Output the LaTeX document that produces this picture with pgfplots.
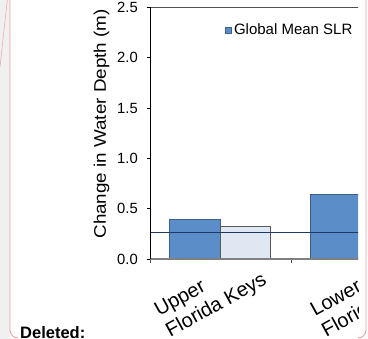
\documentclass[border=0pt]{standalone}
\usepackage{pgfplots}
\pgfplotsset{compat=1.18}
\usepackage{fontspec}
\setmainfont{Liberation Sans}
\newfontfamily\ylabfont[FakeStretch=1.12]{Liberation Sans}
\definecolor{barblue}{HTML}{5B8DC8}
\definecolor{barblueedge}{HTML}{3E5F8A}
\definecolor{barlight}{HTML}{DEE7F2}
\definecolor{barlightedge}{HTML}{595959}
\definecolor{slrline}{HTML}{1F3864}
\definecolor{pinkline}{HTML}{F2A0A0}
\definecolor{sidegray}{HTML}{F0F0F0}
\definecolor{axisgray}{HTML}{808080}
\definecolor{topgray}{HTML}{505050}
\begin{document}
\begin{tikzpicture}
\fill[white] (0,0) rectangle (368bp,339bp);
\fill[sidegray] (0,0) rectangle (10bp,339bp);
\draw[pinkline, line width=0.5bp] (0,272bp) -- (7.3bp,339bp);
\draw[pinkline, line width=0.9bp] (10bp,339bp) -- (10bp,9bp) arc[start angle=180, end angle=270, radius=8bp];
\draw[pinkline, line width=0.9bp] (366bp,339bp) -- (366bp,9bp) arc[start angle=0, end angle=-90, radius=8bp];
\begin{scope}
\clip (0,0) rectangle (358bp,339bp);
\begin{axis}[
  scale only axis,
  width=282bp, height=251.6bp,
  at={(150bp,80bp)}, anchor=south west,
  xmin=-0.5, xmax=1.5, ymin=0, ymax=2.5,
  clip=false,
  axis line style={draw=none},
  tick align=outside,
  major tick length=3.5bp,
  ytick pos=left, xtick pos=bottom,
  ytick={0,0.5,1,1.5,2,2.5},
  y tick style={black, line width=0.8bp},
  x tick style={topgray, line width=0.8bp},
  yticklabel style={/pgf/number format/fixed, /pgf/number format/fixed zerofill,
    /pgf/number format/precision=1, /pgf/number format/assume math mode=true,
    font=\fontsize{14.8bp}{17bp}\selectfont, anchor=east, inner sep=0pt, xshift=-8.5bp},
  xtick={-0.5,0.5,1.5},
  xticklabels={,,},
  extra x ticks={-0.067,1.039},
  extra x tick labels={{Upper\\Florida Keys},{Lower\\Florida Keys}},
  extra x tick style={major tick length=0pt, tick style={draw=none},
    xticklabel style={yshift=-37bp, rotate=29, anchor=center, align=left, inner sep=0pt,
      font=\fontsize{20bp}{23.5bp}\selectfont}},
  every axis y label/.style={at={(axis description cs:-0.172,0.537)}, anchor=center, rotate=90,
    font=\ylabfont\fontsize{16.8bp}{19bp}\selectfont},
  ylabel={Change in Water Depth (m)},
  legend style={at={(axis description cs:0.266,0.9105)}, anchor=west, draw=none, fill=none,
    inner sep=0pt, font=\fontsize{15bp}{18bp}\selectfont},
  legend cell align=left,
]
\addplot[ybar, bar width=0.362, bar shift=-0.181, fill=barblue, draw=barblueedge, line width=1bp,
  legend image code/.code={\draw[fill=barblue, draw=barblueedge, line width=0.8bp] (0bp,-3bp) rectangle (6bp,3bp);}]
  coordinates {(0,0.39) (1,0.64)};
\addlegendentry{Global Mean SLR}
\addplot[ybar, bar width=0.357, bar shift=0.178, fill=barlight, draw=barlightedge, line width=1bp, forget plot]
  coordinates {(0,0.324)};
\addplot[slrline, line width=1.3bp, forget plot] coordinates {(-0.5,0.266) (1.5,0.266)};
\draw[axisgray, line width=1.5bp] (rel axis cs:0,0) -- (rel axis cs:1,0);
\draw[topgray, line width=1.3bp] (rel axis cs:0,1) -- (rel axis cs:1,1);
\draw[black, line width=0.9bp] (rel axis cs:0,0) -- (rel axis cs:0,1);
\end{axis}
\end{scope}
\node[anchor=base west, font=\fontsize{16.5bp}{19bp}\selectfont\bfseries, inner sep=0pt] at (20bp,1bp) {Deleted:};
\pgfresetboundingbox
\useasboundingbox (0,0) rectangle (368bp,339bp);
\end{tikzpicture}
\end{document}
